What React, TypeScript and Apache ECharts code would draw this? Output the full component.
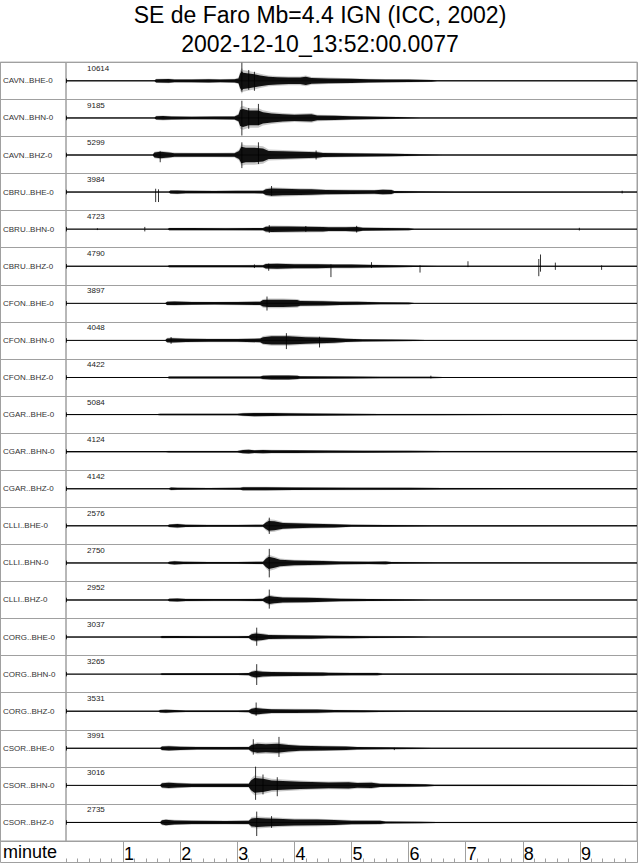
import React, { useEffect, useRef } from 'react';
import * as echarts from 'echarts';

const TITLE_LINE_1 = 'SE de Faro Mb=4.4 IGN (ICC, 2002)';
const TITLE_LINE_2 = '2002-12-10_13:52:00.0077';
const X_NAME = 'minute';

const STATIONS = [
  'CAVN..BHE-0', 'CAVN..BHN-0', 'CAVN..BHZ-0',
  'CBRU..BHE-0', 'CBRU..BHN-0', 'CBRU..BHZ-0',
  'CFON..BHE-0', 'CFON..BHN-0', 'CFON..BHZ-0',
  'CGAR..BHE-0', 'CGAR..BHN-0', 'CGAR..BHZ-0',
  'CLLI..BHE-0', 'CLLI..BHN-0', 'CLLI..BHZ-0',
  'CORG..BHE-0', 'CORG..BHN-0', 'CORG..BHZ-0',
  'CSOR..BHE-0', 'CSOR..BHN-0', 'CSOR..BHZ-0',
];

const MAX_COUNTS = [
  10614, 9185, 5299, 3984, 4723, 4790, 3897, 4048, 4422, 5084, 4124,
  4142, 2576, 2750, 2952, 3037, 3265, 3531, 3991, 3016, 2735,
];

const MINUTE_TICKS = [1, 2, 3, 4, 5, 6, 7, 8, 9];

// envelope of each trace: [minute, half amplitude (row = 41 units)]
const CAVN_BHE = [[0,0.6],[1.55,0.6],[1.58,2],[1.8,2.2],[1.9,1.6],[2.2,1.8],[2.5,2],[2.7,1.6],[2.95,2],[3.02,3],[3.05,9],[3.08,12],[3.1,10],[3.2,9],[3.3,8],[3.4,6.5],[3.55,5],[3.7,4.5],[3.9,4],[4.1,4],[4.2,5],[4.3,3.5],[4.6,3],[5.0,2.5],[5.3,2],[5.6,1.8],[6.0,1.5],[6.4,1],[6.5,0.6],[10,0.6]];
const CAVN_BHN = [[0,0.6],[1.55,0.6],[1.58,2],[1.7,2.3],[1.85,1.8],[2.2,1.5],[2.6,1.6],[2.95,1.8],[3.02,4],[3.05,10],[3.1,11],[3.2,9],[3.37,9],[3.45,7],[3.6,5.5],[3.8,4.5],[4.0,3.8],[4.3,4.5],[4.4,3],[4.7,2.6],[5.0,2],[5.5,1.4],[5.8,1],[6.2,0.6],[10,0.6]];
const CAVN_BHZ = [[0,0.6],[1.52,0.6],[1.55,3],[1.65,4],[1.8,3],[1.9,2.2],[2.3,2],[2.6,2],[2.95,2.2],[3.03,5],[3.07,10],[3.15,9],[3.3,9],[3.45,8],[3.55,5],[3.8,4.5],[4.1,4],[4.4,3.5],[4.5,2.5],[4.9,2],[5.3,1.8],[5.7,1.5],[6.2,1],[6.6,0.7],[10,0.6]];
const CBRU_BHE = [[0,0.6],[1.8,0.6],[1.83,1.8],[1.95,2],[2.1,1.5],[2.6,1.4],[3.0,1.5],[3.45,1.6],[3.5,3.5],[3.6,4.5],[3.8,4],[4.1,3.6],[4.3,3.4],[4.55,2.6],[5.0,2.4],[5.4,2.2],[5.55,2.8],[5.7,2.5],[5.75,1.2],[6.2,0.9],[6.8,0.7],[10,0.6]];
const CBRU_BHN = [[0,0.5],[1.78,0.5],[1.81,1.3],[2.2,1.3],[2.8,1.2],[3.45,1.4],[3.5,3],[3.6,3.4],[3.9,3.2],[4.2,3],[4.5,2.8],[4.6,2.4],[4.9,2.4],[5.1,2.8],[5.2,1.8],[5.6,1.5],[6.0,1.2],[6.1,0.6],[10,0.5]];
const CBRU_BHZ = [[0,0.5],[1.78,0.5],[1.81,1.2],[2.5,1.1],[3.0,1.2],[3.45,1.3],[3.5,2.8],[3.7,3],[4.0,2.6],[4.4,2.4],[4.7,2],[5.0,2],[5.4,1.6],[5.8,1.2],[6.1,0.8],[6.5,0.6],[10,0.5]];
const CFON_BHE = [[0,0.5],[1.74,0.5],[1.77,2],[1.9,2.2],[2.2,1.6],[2.6,1.5],[3.0,1.7],[3.4,2],[3.45,4],[3.55,4.5],[3.8,4.5],[4.05,4],[4.1,3],[4.5,2.6],[4.8,2],[5.1,1.8],[5.5,1.2],[6.0,1],[6.1,0.5],[10,0.5]];
const CFON_BHN = [[0,0.5],[1.74,0.5],[1.77,2.4],[1.85,2.6],[2.1,2],[2.5,1.8],[3.0,1.8],[3.4,2.2],[3.45,4],[3.6,5],[3.9,5],[4.2,4],[4.45,3.5],[4.7,3],[4.9,2],[5.2,1.4],[5.7,1.1],[6.1,0.8],[6.3,0.5],[10,0.5]];
const CFON_BHZ = [[0,0.5],[1.78,0.5],[1.81,1.2],[2.5,1.1],[3.4,1.2],[3.45,2],[3.6,2.4],[3.9,2.4],[4.05,2],[4.1,1.4],[5.0,1.2],[5.5,1],[6.4,0.8],[6.6,0.5],[10,0.5]];
const CGAR_BHE = [[0,0.6],[1.6,0.6],[1.65,0.9],[3.0,0.9],[3.1,1.6],[3.3,2],[3.6,1.8],[3.9,1.6],[4.3,1.4],[4.9,1.1],[5.5,0.8],[6.5,0.7],[10,0.6]];
const CGAR_BHN = [[0,0.7],[1.75,0.7],[1.8,0.9],[3.0,0.9],[3.1,2],[3.2,2.2],[3.3,1.6],[3.45,2],[3.6,1.8],[4.0,1.6],[4.6,1.4],[5.2,1.2],[6.0,1],[6.6,0.8],[10,0.7]];
const CGAR_BHZ = [[0,0.7],[1.8,0.7],[1.84,1.6],[1.95,1.2],[2.5,1],[3.05,1.1],[3.1,1.8],[3.5,1.8],[4.0,1.5],[5.0,1.3],[6.0,1.1],[6.6,0.8],[10,0.7]];
const CLLI_BHE = [[0,0.6],[1.78,0.6],[1.81,1.5],[1.95,2.2],[2.1,1.4],[2.5,1.1],[3.0,1.1],[3.45,1.3],[3.5,4],[3.55,6],[3.65,5.5],[3.8,3.5],[4.0,3],[4.3,2.5],[4.7,2],[5.0,1.2],[5.6,1],[6.4,0.8],[10,0.6]];
const CLLI_BHN = [[0,0.6],[1.78,0.6],[1.81,1.4],[1.9,2],[2.05,1.5],[2.5,1.1],[3.0,1.1],[3.45,1.4],[3.5,5],[3.55,7.5],[3.65,6],[3.75,4],[4.0,3],[4.5,2.4],[4.8,1.6],[5.3,1.4],[5.6,1.8],[5.7,1],[6.5,0.8],[10,0.6]];
const CLLI_BHZ = [[0,0.6],[1.78,0.6],[1.81,1.5],[1.95,1.9],[2.1,1.3],[2.6,1.1],[3.0,1.1],[3.45,1.4],[3.5,3.5],[3.56,5],[3.65,4],[3.8,3],[4.2,2.8],[4.4,2.4],[4.8,1.6],[5.3,1.2],[6.0,1],[6.4,0.7],[10,0.6]];
const CORG_BHE = [[0,0.6],[1.65,0.6],[1.68,1.3],[1.9,1.2],[2.4,1.1],[3.0,1.1],[3.2,1.3],[3.25,3.5],[3.32,4.5],[3.45,3.5],[3.55,2.5],[3.9,2.2],[4.3,2],[4.6,1.6],[5.0,1.4],[5.35,1.1],[6.0,0.9],[6.4,0.6],[10,0.6]];
const CORG_BHN = [[0,0.6],[1.65,0.6],[1.68,1.1],[2.4,1],[3.0,1.1],[3.2,1.3],[3.25,3],[3.32,4],[3.45,3],[3.6,2.5],[4.0,2.2],[4.5,2],[4.6,1.6],[5.0,1.5],[5.45,1.4],[5.55,0.9],[6.2,0.7],[10,0.6]];
const CORG_BHZ = [[0,0.6],[1.62,0.6],[1.65,1.6],[1.75,1.9],[1.9,1.4],[2.1,1],[3.0,1],[3.2,1.2],[3.25,3],[3.32,4],[3.45,3],[3.6,2.3],[4.0,2.2],[4.4,2],[4.7,1.4],[5.2,1.2],[5.5,1],[6.0,0.8],[10,0.6]];
const CSOR_BHE = [[0,0.6],[1.65,0.6],[1.68,2.2],[1.8,2.6],[2.0,2],[2.3,1.6],[2.8,1.5],[3.2,1.6],[3.25,4],[3.35,5.5],[3.5,5],[3.7,5.5],[3.9,4],[4.1,3],[4.5,2.6],[4.9,2.2],[5.1,1.5],[5.6,1.2],[6.0,1],[6.4,0.7],[10,0.6]];
const CSOR_BHN = [[0,0.6],[1.65,0.6],[1.68,2.6],[1.8,3.3],[1.95,2.6],[2.2,2],[2.8,1.9],[3.2,2],[3.24,6],[3.3,9],[3.45,8],[3.6,6],[3.8,5.5],[4.1,4.5],[4.3,4],[4.6,3.5],[4.95,3.7],[5.1,3],[5.35,3.3],[5.5,2],[6.0,1.8],[6.3,1.3],[6.45,0.8],[10,0.6]];
const CSOR_BHZ = [[0,0.6],[1.65,0.6],[1.68,2.6],[1.75,3.3],[1.9,2.4],[2.2,2],[2.8,1.9],[3.2,2],[3.25,5],[3.35,5.5],[3.5,5],[3.7,4.5],[4.0,3.7],[4.4,3.5],[4.7,3],[5.0,2.2],[5.5,2],[5.6,1.2],[6.2,0.9],[6.5,0.7],[10,0.6]];

const ENVELOPES = [
  CAVN_BHE, CAVN_BHN, CAVN_BHZ, CBRU_BHE, CBRU_BHN, CBRU_BHZ,
  CFON_BHE, CFON_BHN, CFON_BHZ, CGAR_BHE, CGAR_BHN, CGAR_BHZ,
  CLLI_BHE, CLLI_BHN, CLLI_BHZ, CORG_BHE, CORG_BHN, CORG_BHZ,
  CSOR_BHE, CSOR_BHN, CSOR_BHZ,
];

// isolated spikes: [minute, upward amplitude, downward amplitude]
const SPIKES = [
  [[3.08, 20, 12], [3.2, 12, 10], [3.3, 10, 11]],
  [[3.08, 19, 19.5], [3.37, 15.5, 8], [3.2, 11, 12]],
  [[1.65, 4, 8], [3.08, 14, 14.5], [3.37, 14, 10], [4.38, 5, 5]],
  [[1.57, 3.7, 11], [1.62, 3, 11], [3.6, 6.7, 4], [9.74, 1.5, 1.5]],
  [[0.55, 1, 1], [1.38, 2.5, 2.5], [3.56, 4.5, 4], [4.2, 3.5, 3], [5.09, 3.7, 3.7], [8.99, 1.5, 1.5]],
  [[3.3, 2, 2], [3.55, 3, 5], [4.64, 2, 12], [5.35, 4.5, 2], [6.2, 1, 7], [7.04, 5.5, 1], [8.28, 8, 11], [8.31, 13, 6], [8.57, 4, 4], [9.38, 1, 4]],
  [[3.52, 7.5, 8]],
  [[1.84, 3.7, 3.7], [3.86, 8, 9.6], [4.44, 4, 7.8]],
  [[6.39, 2, 1]],
  [],
  [],
  [],
  [[3.56, 9, 9]],
  [[3.56, 15.5, 16]],
  [[3.56, 11.5, 9.6]],
  [[3.34, 10.4, 9.6]],
  [[3.34, 11, 12]],
  [[3.33, 9.6, 5]],
  [[3.28, 10, 7], [3.73, 12.6, 9.6], [5.75, 0.5, 2]],
  [[3.32, 20.7, 16], [3.45, 12, 10], [3.7, 9, 12]],
  [[3.34, 12, 15], [3.6, 7, 6]],
];

const ROW_UNITS = 41;
const FONT = 'Liberation Sans, Arial, Helvetica, sans-serif';
const GRID_COLOR = '#a0a0a0';

function makeTraceSeries(i: number) {
  return {
    type: 'custom',
    xAxisIndex: 0,
    yAxisIndex: 0,
    silent: true,
    data: [[0, i * ROW_UNITS + ROW_UNITS / 2]],
    renderItem: (_params: any, api: any) => {
      const env = ENVELOPES[i];
      const center = i * ROW_UNITS + ROW_UNITS / 2;
      const top = api.coord([0, i * ROW_UNITS]);
      const upper = env.map(([t, a]) => api.coord([t, center - a * 0.9]));
      const lower = env.map(([t, a]) => api.coord([t, center + a * 0.9])).reverse();
      const fUpper = env.map(([t, a]) => api.coord([t, center - a * 1.2]));
      const fLower = env.map(([t, a]) => api.coord([t, center + a * 1.2])).reverse();
      const start = api.coord([0, center]);
      const end = api.coord([10, center]);
      const children: any[] = [
        { type: 'polygon', shape: { points: [...fUpper, ...fLower] }, style: { fill: '#000', opacity: 0.22 } },
        { type: 'polygon', shape: { points: [...upper, ...lower] }, style: { fill: '#111' } },
        { type: 'line', shape: { x1: start[0], y1: start[1], x2: end[0], y2: end[1] }, style: { stroke: '#000', lineWidth: 0.7 } },
      ];
      const t0a = api.coord([0, center - 2.5]);
      const t0b = api.coord([0, center + 2.5]);
      children.push({ type: 'line', shape: { x1: t0a[0] + 0.5, y1: t0a[1], x2: t0b[0] + 0.5, y2: t0b[1] }, style: { stroke: '#000', lineWidth: 0.8 } });
      SPIKES[i].forEach(([t, up, down]) => {
        const p1 = api.coord([t, center - up]);
        const p2 = api.coord([t, center + down]);
        children.push({ type: 'line', shape: { x1: p1[0], y1: p1[1], x2: p2[0], y2: p2[1] }, style: { stroke: '#000', lineWidth: 0.8 } });
      });
      children.push({
        type: 'text',
        x: top[0] + 21,
        y: top[1] + 6,
        style: { text: String(MAX_COUNTS[i]), fontSize: 8, fontFamily: FONT, fill: '#222', align: 'left', verticalAlign: 'middle' },
      });
      return { type: 'group', children };
    },
  };
}

export default function App() {
  const ref = useRef<HTMLDivElement>(null);
  useEffect(() => {
    if (!ref.current) return;
    const chart = echarts.init(ref.current, undefined, { renderer: 'svg' });
    const plotTop = 62.3;
    const plotH = 778.7;
    chart.setOption({
      animation: false,
      backgroundColor: '#fff',
      title: [
        { text: TITLE_LINE_1, left: 'center', top: 3, padding: 0, textStyle: { fontSize: 23, fontWeight: 'normal', color: '#000', fontFamily: FONT, lineHeight: 23 } },
        { text: TITLE_LINE_2, left: 'center', top: 32, padding: 0, textStyle: { fontSize: 23, fontWeight: 'normal', color: '#000', fontFamily: FONT, lineHeight: 23 } },
      ],
      grid: [
        { left: 0, top: plotTop, width: 66, height: plotH, show: true, borderColor: GRID_COLOR, borderWidth: 1, containLabel: false },
        { left: 66, top: plotTop, width: 571, height: plotH, show: true, borderColor: GRID_COLOR, borderWidth: 1, containLabel: false },
        { left: 66, top: plotTop + plotH, width: 571, height: 21.5, show: false, containLabel: false },
      ],
      xAxis: [
        {
          gridIndex: 1, type: 'value', min: 0, max: 10, interval: 1, position: 'bottom',
          axisLine: { show: false, onZero: false },
          splitLine: { show: false },
          axisTick: { show: true, length: 21.5, customValues: MINUTE_TICKS, lineStyle: { color: GRID_COLOR, width: 1 } },
          axisLabel: { show: true, customValues: MINUTE_TICKS, fontSize: 18, color: '#000', fontFamily: FONT, align: 'left', margin: 4, padding: [0, 0, 0, 1] },
        },
        {
          gridIndex: 2, type: 'value', min: 0, max: 10, interval: 0.2, position: 'bottom',
          axisLine: { show: false, onZero: false },
          splitLine: { show: false },
          axisTick: { show: true, inside: true, length: 4, lineStyle: { color: GRID_COLOR, width: 1 } },
          axisLabel: { show: false },
        },
        { gridIndex: 0, type: 'value', min: 0, max: 1, show: false },
      ],
      yAxis: [
        {
          gridIndex: 1, type: 'value', min: 0, max: ROW_UNITS * STATIONS.length, interval: ROW_UNITS, inverse: true,
          axisLine: { show: false }, axisTick: { show: false }, axisLabel: { show: false },
          splitLine: { show: true, lineStyle: { color: GRID_COLOR, width: 1 } },
        },
        { gridIndex: 2, type: 'value', min: 0, max: 1, show: false },
        {
          gridIndex: 0, type: 'category', data: STATIONS, inverse: true, position: 'left',
          axisLine: { show: false }, axisTick: { show: false },
          axisLabel: { show: true, inside: true, margin: 3, fontSize: 8, color: '#333', fontFamily: FONT },
          splitLine: { show: true, lineStyle: { color: GRID_COLOR, width: 1 } },
        },
      ],
      graphic: [
        { type: 'rect', shape: { x: 0.5, y: plotTop, width: 637, height: plotH + 21.5 }, style: { fill: 'none', stroke: GRID_COLOR, lineWidth: 1 }, silent: true },
        { type: 'text', x: 3, y: 852, style: { text: X_NAME, fontSize: 18, fontFamily: FONT, fill: '#000', verticalAlign: 'middle', align: 'left' } },
      ],
      series: STATIONS.map((_, i) => makeTraceSeries(i)),
    });
    return () => chart.dispose();
  }, []);
  return <div ref={ref} style={{ position: 'fixed', left: 0, top: 0, width: 640, height: 866 }} />;
}
